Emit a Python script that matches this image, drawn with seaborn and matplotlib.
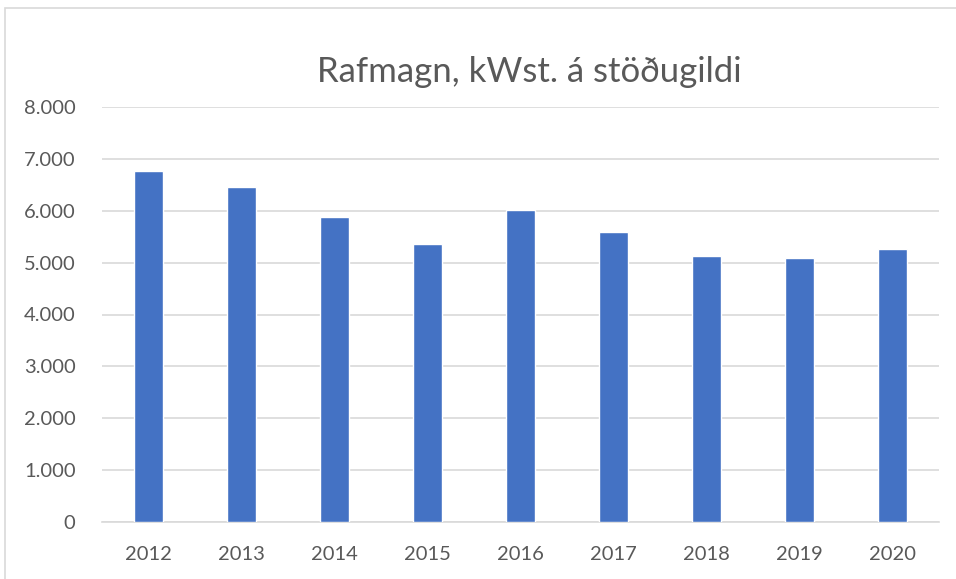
import matplotlib
matplotlib.use("Agg")
import matplotlib.pyplot as plt
import seaborn as sns
import pandas as pd
from matplotlib.ticker import FuncFormatter
from matplotlib.patches import Rectangle

years = ["2012", "2013", "2014", "2015", "2016", "2017", "2018", "2019", "2020"]
values = [6757, 6460, 5873, 5351, 6013, 5583, 5127, 5097, 5257]
title = "Rafmagn, kWst. á stöðugildi"

sns.set_theme(style="white")
plt.rcParams["font.family"] = ["Lato", "DejaVu Sans"]

W, H = 956, 579
fig = plt.figure(figsize=(W / 100, H / 100), dpi=100)
ax = fig.add_axes([102 / W, 1 - 522 / H, 836.5 / W, 415 / H])

df = pd.DataFrame({"year": years, "value": values})
sns.barplot(data=df, x="year", y="value", color="#4472C4", saturation=1,
            width=0.312, ax=ax, zorder=3)

ax.set_ylim(0, 8000)
ax.set_xlim(-0.5, len(years) - 0.5)
ax.set_yticks(range(0, 8001, 1000))
ax.yaxis.set_major_formatter(FuncFormatter(lambda v, p: f"{int(v):,}".replace(",", ".")))
ax.grid(axis="y", color="#D9D9D9", linewidth=1.2, zorder=0)
ax.set_axisbelow(True)
for s in ["top", "right", "left"]:
    ax.spines[s].set_visible(False)
ax.spines["bottom"].set_color("#D9D9D9")
ax.spines["bottom"].set_linewidth(1.2)
ax.set_xlabel("")
ax.set_ylabel("")
ax.tick_params(axis="both", length=0, labelsize=14.5, colors="#595959")
ax.tick_params(axis="y", pad=19)
ax.tick_params(axis="x", pad=17)

fig.text(529 / W, 1 - 72 / H, title, ha="center", va="center", fontsize=25, color="#595959")

fig.patches.append(Rectangle((5 / W, -0.1), 2, 1 - 8 / H + 0.1, transform=fig.transFigure,
                             fill=False, edgecolor="#D9D9D9", linewidth=1.2))

fig.savefig("out.png", dpi=100)
